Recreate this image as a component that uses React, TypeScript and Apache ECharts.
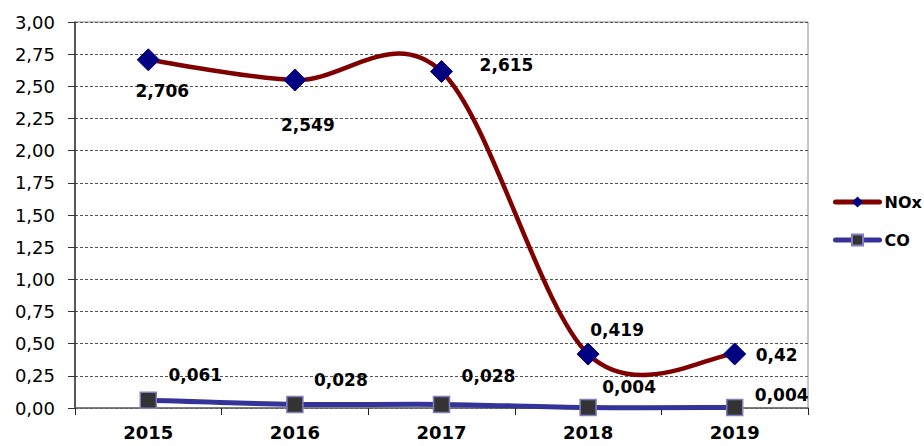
import React, { useEffect, useRef } from "react";
import * as echarts from "echarts";

const years = ["2015", "2016", "2017", "2018", "2019"];
const noxValues = [2.706, 2.549, 2.615, 0.419, 0.42];
const coValues = [0.061, 0.028, 0.028, 0.004, 0.004];
const noxLabels = ["2,706", "2,549", "2,615", "0,419", "0,42"];
const coLabels = ["0,061", "0,028", "0,028", "0,004", "0,004"];
const noxOffsets = [[14, 31], [13, 45], [65, -7], [29, -24], [42, 1]];
const coOffsets = [[47, -25], [46, -24], [47, -28], [41, -20], [47, -12]];

const FONT = "DejaVu Sans";
const NOX_LINE = "#800000";
const CO_LINE = "#333399";

function curveSeries(name: string, values: number[], color: string, width: number, z: number) {
  return {
    name,
    type: "custom",
    coordinateSystem: "cartesian2d",
    silent: true,
    z,
    data: values.map((v, i) => [i, v]),
    encode: { x: 0, y: 1 },
    renderItem: (params: any, api: any) => {
      if (params.dataIndex !== 0) return null;
      const pts = values.map((v, i) => api.coord([i, v]));
      const n = pts.length;
      const children: any[] = [];
      for (let i = 0; i < n - 1; i++) {
        const p0 = pts[Math.max(0, i - 1)];
        const p1 = pts[i];
        const p2 = pts[i + 1];
        const p3 = pts[Math.min(n - 1, i + 2)];
        children.push({
          type: "bezierCurve",
          shape: {
            x1: p1[0],
            y1: p1[1],
            cpx1: p1[0] + (p2[0] - p0[0]) / 6,
            cpy1: p1[1] + (p2[1] - p0[1]) / 6,
            cpx2: p2[0] - (p3[0] - p1[0]) / 6,
            cpy2: p2[1] - (p3[1] - p1[1]) / 6,
            x2: p2[0],
            y2: p2[1],
          },
          style: { stroke: color, lineWidth: width, fill: null, lineCap: "round" },
        });
      }
      return { type: "group", children };
    },
  };
}

export default function App() {
  const ref = useRef<HTMLDivElement>(null);
  useEffect(() => {
    if (!ref.current) return;
    const chart = echarts.init(ref.current, undefined, { renderer: "svg" });
    const mk = (vals: number[], labels: string[], offs: number[][]) =>
      vals.map((v, i) => ({
        value: v,
        label: {
          show: true,
          position: "inside",
          offset: offs[i],
          formatter: labels[i],
          color: "#000",
          fontFamily: FONT,
          fontWeight: "bold",
          fontSize: 17,
        },
      }));
    chart.setOption({
      animation: false,
      backgroundColor: "#fff",
      grid: {
        left: 75,
        right: 116,
        top: 22,
        bottom: 38,
        show: true,
        borderColor: "#8c8c8c",
        borderWidth: 1,
      },
      legend: {
        orient: "vertical",
        left: 828,
        top: 189,
        itemWidth: 44,
        itemHeight: 14,
        itemGap: 22,
        lineStyle: { opacity: 1, width: 5, cap: "round" },
        textStyle: { fontFamily: FONT, fontWeight: "bold", fontSize: 16, color: "#000" },
        data: ["NOx", "CO"],
      },
      xAxis: {
        type: "category",
        data: years,
        boundaryGap: true,
        axisLine: { lineStyle: { color: "#666", width: 1.5 } },
        axisTick: { show: true, length: 7, lineStyle: { color: "#222" } },
        axisLabel: { fontFamily: FONT, fontWeight: "bold", fontSize: 18, color: "#000", margin: 15 },
        splitLine: { show: false },
      },
      yAxis: {
        type: "value",
        min: 0,
        max: 3,
        interval: 0.25,
        axisLine: { show: true, lineStyle: { color: "#333", width: 1.5 } },
        axisTick: { show: true, length: 7, lineStyle: { color: "#333" } },
        axisLabel: {
          fontFamily: FONT,
          fontSize: 18,
          color: "#000",
          margin: 20,
          formatter: (v: number) => v.toFixed(2).replace(".", ","),
        },
        splitLine: { show: true, lineStyle: { color: "#555", type: [3, 2], width: 1 } },
      },
      series: [
        curveSeries("NOx curve", noxValues, NOX_LINE, 4.5, 2),
        curveSeries("CO curve", coValues, CO_LINE, 5, 1),
        {
          name: "NOx",
          type: "line",
          data: mk(noxValues, noxLabels, noxOffsets),
          symbol: "diamond",
          symbolSize: 22,
          lineStyle: { color: NOX_LINE, width: 4.5, opacity: 0 },
          itemStyle: { color: "#000080", borderColor: "#000080" },
          z: 4,
        },
        {
          name: "CO",
          type: "line",
          data: mk(coValues, coLabels, coOffsets),
          symbol: "rect",
          symbolSize: 16,
          lineStyle: { color: CO_LINE, width: 5, opacity: 0 },
          itemStyle: { color: "#333333", borderColor: "#8080c0", borderWidth: 1.5 },
          z: 3,
        },
      ],
    });
    return () => chart.dispose();
  }, []);
  return <div ref={ref} style={{ width: 924, height: 446, position: "absolute", left: 0, top: 0 }} />;
}
